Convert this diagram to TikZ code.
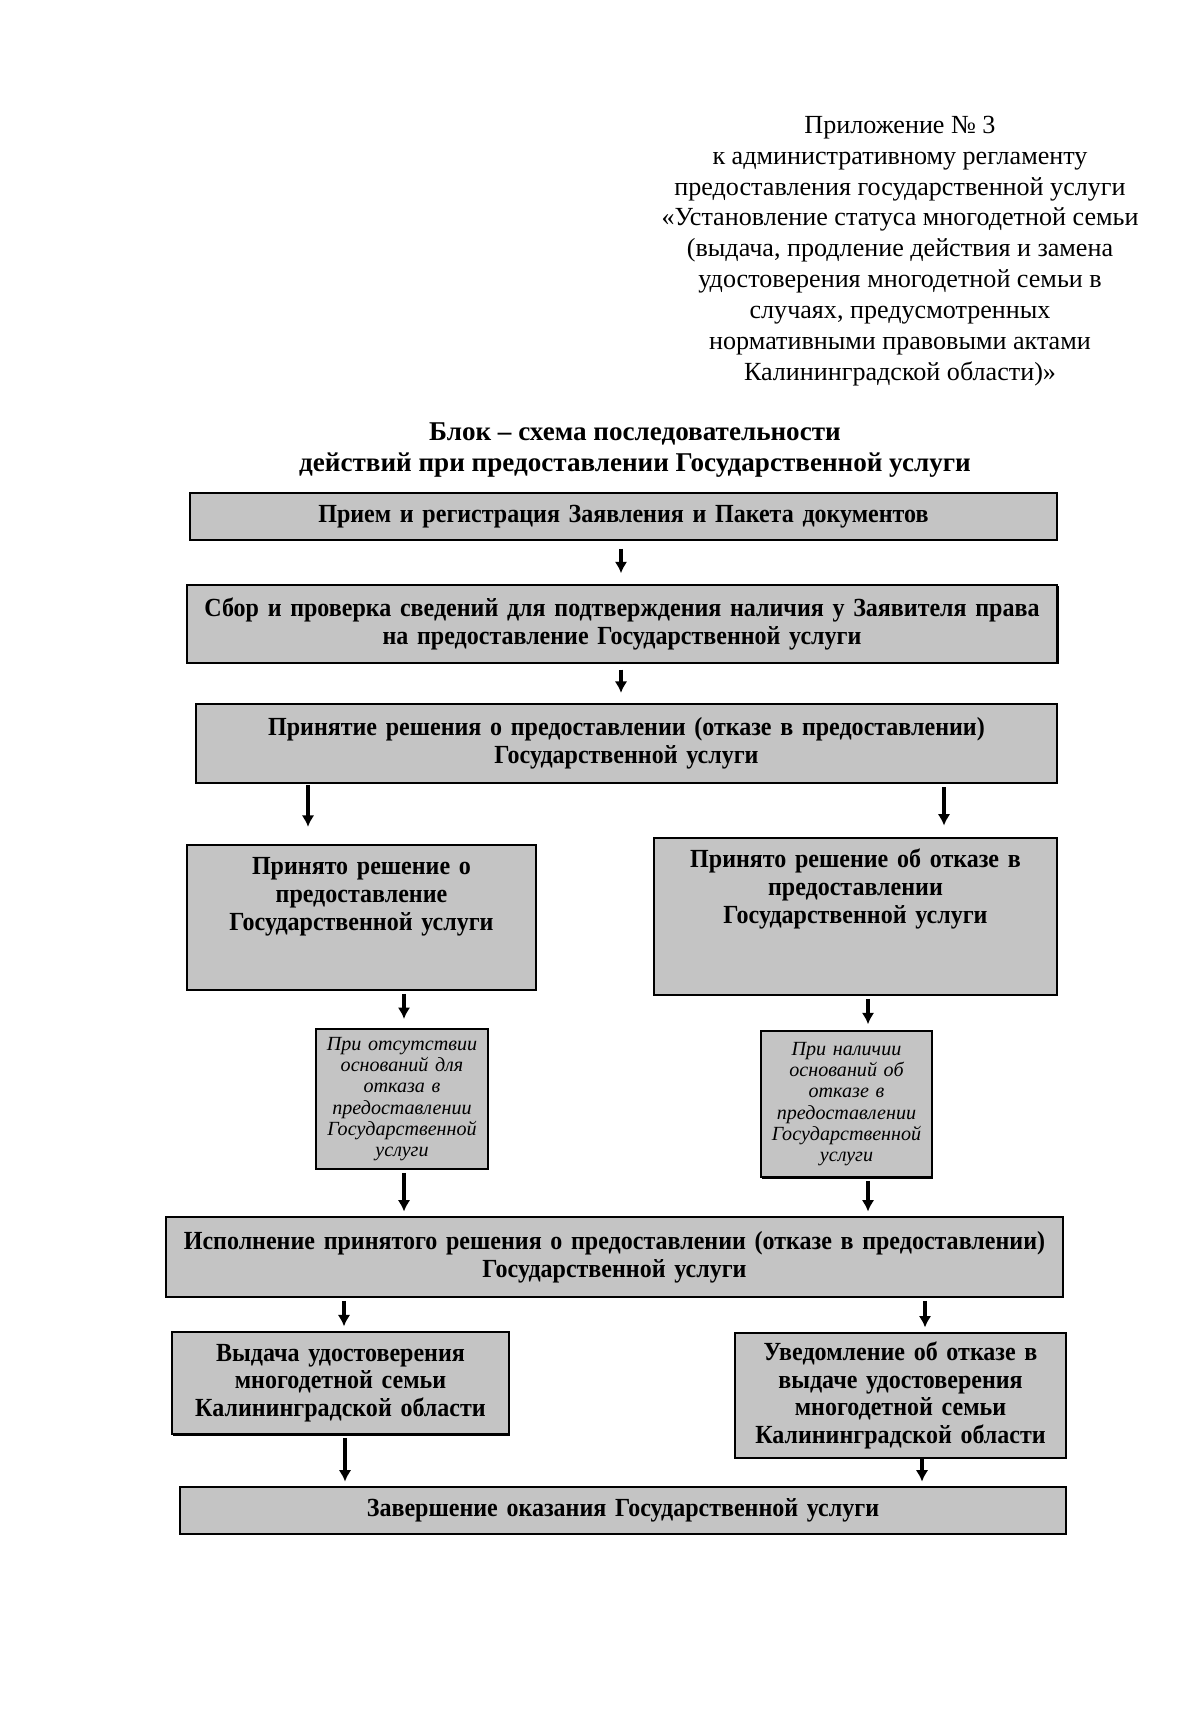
\documentclass[tikz,border=0pt]{standalone}
\usepackage{fontspec}
\setmainfont{Liberation Serif}
\newfontfamily\blkfont[FakeStretch=0.92]{Liberation Serif}
\usetikzlibrary{arrows.meta, shadows}
\tikzset{
  blk/.style ={draw, line width=0.9pt, fill=black!23, inner sep=0pt,
               align=center, font=\blkfont\bfseries\fontsize{13}{13.8}\selectfont,
               drop shadow={shadow xshift=0.7pt, shadow yshift=-0.7pt,
                            fill=black, opacity=1}},
  note/.style={blk, font=\itshape\fontsize{10}{10.6}\selectfont},
  arr/.style ={-{Latex[length=2mm, width=2.2mm]}, line width=2pt,
               shorten <=0.5mm, shorten >=0.8mm},
  hdr/.style ={font=\fontsize{13}{15.4}\selectfont, align=center},
  ttl/.style ={font=\bfseries\fontsize{13.5}{15.1}\selectfont, align=center},
}
\begin{document}
\begin{tikzpicture}[x=0.175mm, y=-0.175mm]
  \path[use as bounding box, fill=white] (0,0) rectangle (1200,1709);
  % heading of the appendix
  \node[hdr] (head) at (900,251) {Приложение № 3\\
    к административному регламенту\\
    предоставления государственной услуги\\
    «Установление статуса многодетной семьи\\
    (выдача, продление действия и замена\\
    удостоверения многодетной семьи в\\
    случаях, предусмотренных\\
    нормативными правовыми актами\\
    Калининградской области)»};
  \node[ttl] (title) at (635,450) {Блок – схема последовательности\\
    действий при предоставлении Государственной услуги};
  % main chain
  \node[blk, text width=151.7mm, minimum height=8.2mm] (b1) at (623.5,516.5)
    {Прием и регистрация Заявления и Пакета документов};
  \node[blk, text width=152.3mm, minimum height=13.65mm] (b2) at (622,624)
    {Сбор и проверка сведений для подтверждения наличия у Заявителя права\\
     на предоставление Государственной услуги};
  \node[blk, text width=150.7mm, minimum height=13.8mm] (b3) at (626.5,743.5)
    {Принятие решения о предоставлении (отказе в предоставлении)\\
     Государственной услуги};
  % two decisions
  \node[blk, text width=61.1mm, text height=5.25mm, text depth=20.15mm,
        anchor=north] (b4l) at (361.5,844)
    {Принято решение о\\ предоставление\\ Государственной услуги};
  \node[blk, text width=70.5mm, text height=5.25mm, text depth=22.25mm,
        anchor=north] (b4r) at (855.5,837)
    {Принято решение об отказе в\\ предоставлении\\ Государственной услуги};
  \node[note, text width=30.1mm, minimum height=24.5mm] (nl) at (402,1099)
    {При отсутствии\\ оснований для\\ отказа в\\ предоставлении\\
     Государственной\\ услуги};
  \node[note, text width=29.9mm, minimum height=25.6mm] (nr) at (846.5,1104)
    {При наличии\\ оснований об\\ отказе в\\ предоставлении\\
     Государственной\\ услуги};
  \node[blk, text width=157mm, minimum height=14mm] (b5) at (614.5,1257)
    {Исполнение принятого решения о предоставлении (отказе в предоставлении)\\
     Государственной услуги};
  \node[blk, text width=59mm, minimum height=17.9mm] (b6l) at (340.5,1383)
    {Выдача удостоверения\\ многодетной семьи\\ Калининградской области};
  \node[blk, text width=57.9mm, minimum height=21.9mm] (b6r) at (900.5,1395.5)
    {Уведомление об отказе в\\ выдаче удостоверения\\ многодетной семьи\\
     Калининградской области};
  \node[blk, text width=155mm, minimum height=8.2mm] (b7) at (623,1510.5)
    {Завершение оказания Государственной услуги};
  % arrows
  \draw[arr, shorten <=1.4mm, shorten >=1.9mm] (b1.south -| 621,0) -- (b2.north -| 621,0);
  \draw[arr, shorten <=1mm, shorten >=1.8mm] (b2.south -| 621,0) -- (b3.north -| 621,0);
  \draw[arr, shorten <=0.2mm, shorten >=3mm] (b3.south -| 308,0) -- (b4l.north -| 308,0);
  \draw[arr, shorten <=0.6mm, shorten >=2mm] (b3.south -| 944,0) -- (b4r.north -| 944,0);
  \draw[arr, shorten >=1.6mm] (b4l.south -| 404,0) -- (nl.north -| 404,0);
  \draw[arr, shorten >=1mm] (b4r.south -| 868,0) -- (nr.north -| 868,0);
  \draw[arr] (nl.south -| 404,0) -- (b5.north -| 404,0);
  \draw[arr] (nr.south -| 868,0) -- (b5.north -| 868,0);
  \draw[arr] (b5.south -| 344,0) -- (b6l.north -| 344,0);
  \draw[arr] (b5.south -| 925,0) -- (b6r.north -| 925,0);
  \draw[arr] (b6l.south -| 345,0) -- (b7.north -| 345,0);
  \draw[arr, shorten <=0mm] (b6r.south -| 922,0) -- (b7.north -| 922,0);
\end{tikzpicture}
\end{document}
